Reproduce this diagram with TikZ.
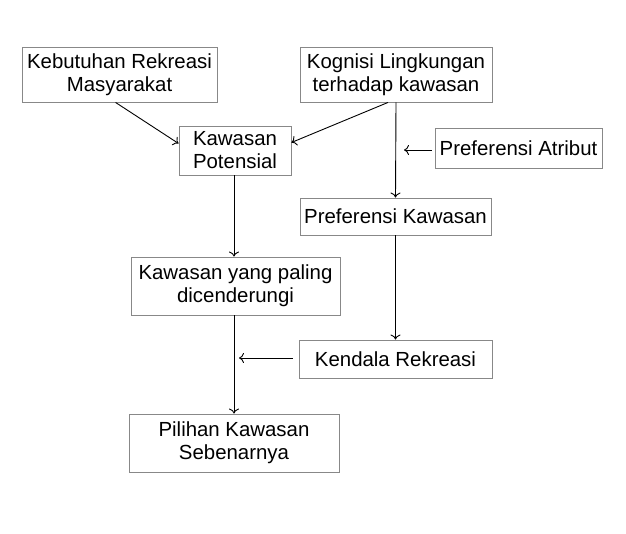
\documentclass[tikz,border=0pt]{standalone}
\usepackage{fontspec}
\setmainfont{Liberation Sans}
\usetikzlibrary{arrows.meta}

\tikzset{
  kotak/.style={draw={rgb,255:red,136;green,136;blue,136},line width=0.9pt,align=center,inner sep=0pt,
    font=\fontsize{20.4}{23}\selectfont},
  panah/.style={draw=black,line width=0.9pt,-{To[length=5pt,width=10pt]}},
}

\begin{document}
\begin{tikzpicture}[x=1pt,y=1pt,yscale=-1,xscale=1]
\useasboundingbox (0,0) rectangle (626,534);

% Text Node
\node (keb) [kotak,minimum width=195pt,minimum height=55pt] at (119.5,74.5) {Kebutuhan Rekreasi\\Masyarakat};
% Text Node
\node (kog) [kotak,minimum width=192pt,minimum height=55pt] at (396,74.5) {Kognisi Lingkungan\\terhadap kawasan};
% Text Node
\node (pot) [kotak,minimum width=112pt,minimum height=49pt] at (235,150.5) {Kawasan\\Potensial};
% Text Node
\node (atr) [kotak,minimum width=167pt,minimum height=40pt] at (518.5,148) {Preferensi Atribut};
% Text Node
\node (prefk) [kotak,minimum width=191pt,minimum height=37pt] at (395.5,216.5) {Preferensi Kawasan};
% Text Node
\node (cend) [kotak,minimum width=209pt,minimum height=58pt] at (235.5,286) {Kawasan yang paling\\dicenderungi};
% Text Node
\node (kend) [kotak,minimum width=193pt,minimum height=38pt] at (395.5,359) {Kendala Rekreasi};
% Text Node
\node (pil) [kotak,minimum width=210pt,minimum height=58pt] at (234,443) {Pilihan Kawasan\\Sebenarnya};

% free ends of the short arrows
\coordinate (atrend) at (404,150);
\coordinate (kendend) at (239,358);

%Straight Lines
\draw [panah] (keb.south west) ++(94,0) -- ([yshift=-7pt]pot.west);
\draw [panah] ([xshift=-8pt]kog.south) -- ([yshift=-8pt]pot.east);
\draw [panah] (kog.south) -- (prefk.north);
\draw [panah] ([xshift=-3pt,yshift=2pt]atr.west) -- (atrend);
\draw [panah] (prefk.south) -- (kend.north);
\draw [panah] (pot.south) ++(-1,0) -- ([xshift=-1.5pt]cend.north);
\draw [panah] ([xshift=-1.5pt]cend.south) -- (pil.north);
\draw [panah] ([xshift=-6pt,yshift=-1pt]kend.west) -- (kendend);

\end{tikzpicture}
\end{document}
